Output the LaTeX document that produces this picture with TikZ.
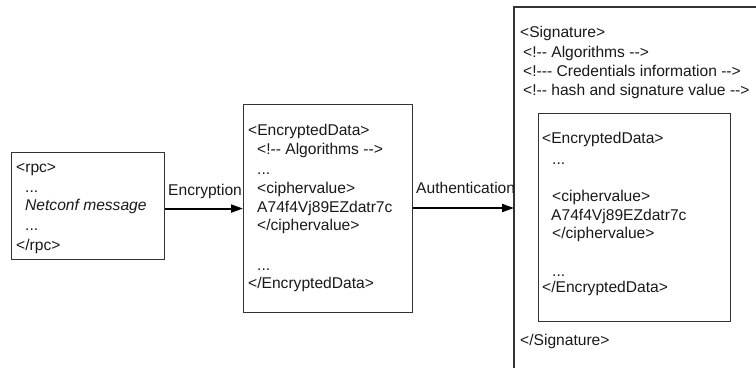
\documentclass[tikz,border=0pt]{standalone}
\usepackage{fontspec}
\setmainfont{Liberation Sans}[Ligatures=TeXOff]
\usetikzlibrary{arrows.meta}
\definecolor{boxline}{gray}{0.2}
\definecolor{txtcol}{gray}{0.1}
\begin{document}
\begin{tikzpicture}[x=1bp,y=-1bp,
  box/.style={draw=boxline,line width=1.1bp,inner sep=0pt},
  txt/.style={anchor=base west,inner sep=0pt,text=txtcol,font=\fontsize{15.6bp}{19bp}\selectfont},
  arr/.style={draw=black,line width=2bp,-{Triangle[length=12bp,width=8bp]}}]
\useasboundingbox (0,0) rectangle (756,368);
% boxes
\node[box,minimum width=153bp,minimum height=107bp,anchor=north west] (rpcbox) at (11,152) {};
\node[box,minimum width=169bp,minimum height=208bp,anchor=north west] (encbox) at (243,104) {};
\node[box,minimum width=192bp,minimum height=208bp,anchor=north west] (innerbox) at (538,113) {};
\draw[boxline,line width=1.1bp] (756,7) -- (514,7) -- (514,368);
\coordinate (sigin) at (514,208);
% rpc box text
\node[txt] (r1) at (16,172) {<rpc>};
\node[txt] (r2) at (25,192) {...};
\node[txt] (r3) at (25,210) {\itshape Netconf message};
\node[txt] (r4) at (25,230) {...};
\node[txt] (r5) at (16,250) {</rpc>};
% middle box text
\node[txt] (m1) at (248,135) {<EncryptedData>};
\node[txt] (m2) at (257,154) {<!-- Algorithms -->};
\node[txt] (m3) at (257,174) {...};
\node[txt] (m4) at (257,193) {<ciphervalue>};
\node[txt] (m5) at (257,212) {A74f4Vj89EZdatr7c};
\node[txt] (m6) at (257,230) {</ciphervalue>};
\node[txt] (m7) at (257,270) {...};
\node[txt] (m8) at (248,288) {</EncryptedData>};
% signature text
\node[txt] (s1) at (520,37) {<Signature>};
\node[txt] (s2) at (523,57) {<!-- Algorithms -->};
\node[txt] (s3) at (523,76) {<!--- Credentials information -->};
\node[txt] (s4) at (523,95) {<!-- hash and signature value -->};
\node[txt] (s5) at (520,345) {</Signature>};
% inner box text
\node[txt] (i1) at (542,143) {<EncryptedData>};
\node[txt] (i2) at (552,164) {...};
\node[txt] (i3) at (552,201) {<ciphervalue>};
\node[txt] (i4) at (551,220) {A74f4Vj89EZdatr7c};
\node[txt] (i5) at (552,238) {</ciphervalue>};
\node[txt] (i6) at (552,276) {...};
\node[txt] (i7) at (542,292) {</EncryptedData>};
% arrows
\draw[arr] (rpcbox.east |- encbox.west) -- (encbox.west);
\draw[arr] (encbox.east |- sigin) -- (sigin);
\node[txt] (lenc) at (168,195) {Encryption};
\node[txt] (lauth) at (416,193) {Authentication};
\end{tikzpicture}
\end{document}
